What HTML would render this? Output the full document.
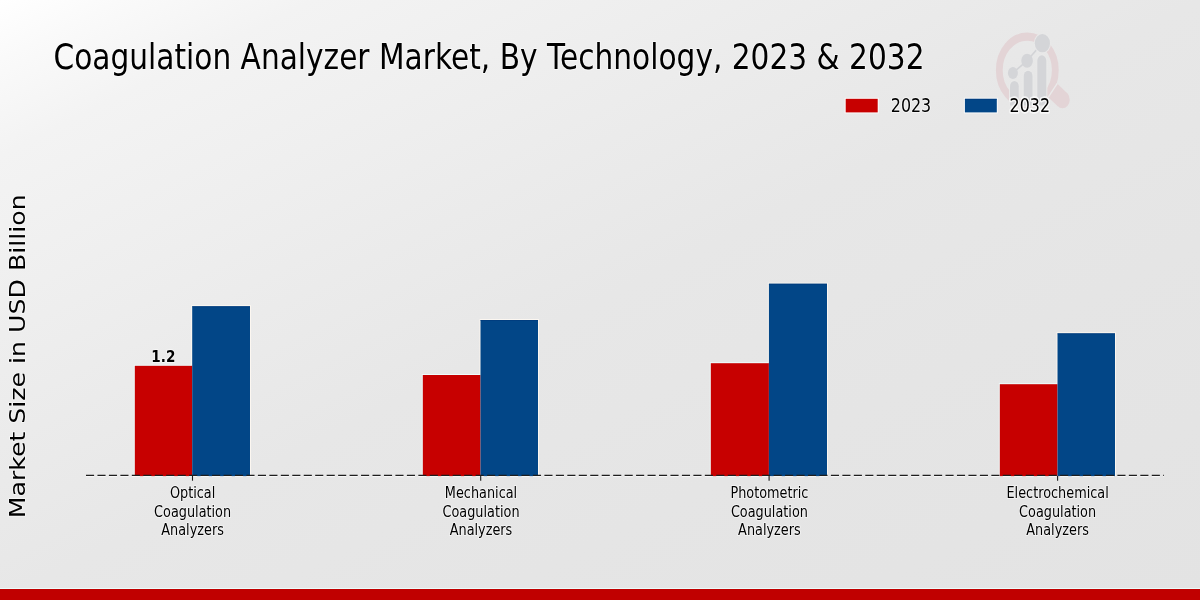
<!DOCTYPE html>
<html>
<head>
<meta charset="utf-8">
<style>
html,body{margin:0;padding:0;width:1200px;height:600px;overflow:hidden;}
body{background:linear-gradient(to bottom right,#ffffff 0%,#fafafa 5%,#f3f3f3 13%,#efefef 25%,#ebebeb 37%,#e7e7e7 50%,#e5e5e5 70%,#e3e3e3 100%);}
svg{position:absolute;left:0;top:0;display:block;will-change:transform;}
text{font-family:"DejaVu Sans","Liberation Sans",sans-serif;fill:#000;stroke:#fff;stroke-opacity:0.55;stroke-width:1.6px;paint-order:stroke;stroke-linejoin:round;}
</style>
</head>
<body>
<svg width="1200" height="600" viewBox="0 0 1200 600">
  <!-- watermark logo -->
  <g transform="scale(1,1.2)">
    <circle cx="1027.3" cy="58.5" r="28" fill="none" stroke="#e3d4d6" stroke-width="6.8"/>
    <line x1="1052.7" y1="75.3" x2="1062.5" y2="83.05" stroke="#e3d4d6" stroke-width="14.4"/>
    <circle cx="1062.5" cy="83.05" r="7.2" fill="#e3d4d6"/>
    <line x1="1048.2" y1="80.95" x2="1057.2" y2="69.65" stroke="#eaeaea" stroke-width="1.3"/>
    <g stroke="#d2d3d6" stroke-width="1.5">
      <line x1="1012.9" y1="60.75" x2="1027.1" y2="50.6"/>
      <line x1="1027.1" y1="50.6" x2="1042.4" y2="36"/>
    </g>
    <g fill="#d4d5d8" stroke="#e9e9e9" stroke-width="2" paint-order="stroke">
      <path d="M1010 88 V71.9 a4.375 4.375 0 0 1 8.75 0 V88 Z"/>
      <path d="M1023.75 88 V63.4 a4.375 4.375 0 0 1 8.75 0 V88 Z"/>
      <path d="M1037.3 88 V50.6 a4.5 4.5 0 0 1 9 0 V88 Z"/>
      <circle cx="1042.4" cy="36" r="7.6"/>
      <circle cx="1012.9" cy="60.75" r="5" stroke="none"/>
      <circle cx="1027.1" cy="50.6" r="5.8" stroke="none"/>
    </g>
  </g>

  <!-- title -->
  <text transform="translate(53.5,68.5) scale(1,1.215)" font-size="29.64">Coagulation Analyzer Market, By Technology, 2023 &amp; 2032</text>

  <!-- legend -->
  <rect x="844.7" y="97.8" width="34.0" height="15.6" fill="#ffffff" opacity="0.85"/>
  <rect x="963.9" y="97.8" width="33.9" height="15.6" fill="#ffffff" opacity="0.85"/>
  <rect x="845.7" y="98.8" width="32.0" height="13.6" fill="#c70000"/>
  <text transform="translate(890.8,112.2) scale(1,1.27)" font-size="15.9">2023</text>
  <rect x="964.9" y="98.8" width="31.9" height="13.6" fill="#024687"/>
  <rect x="964.9" y="98.8" width="31.9" height="1" fill="#00377a" opacity="0.6"/>
  <text transform="translate(1009.6,112.2) scale(1,1.27)" font-size="15.9" style="stroke-width:2.6px;stroke-opacity:0.75">2032</text>

  <!-- y axis label -->
  <text transform="translate(25,518.3) rotate(-90) scale(1.167,1)" font-size="21.6">Market Size in USD Billion</text>

  <!-- bars -->
  <g opacity="0.85">
    <rect fill="#f0ffff" x="133.8" y="364.8" width="59.4" height="111.4"/>
    <rect fill="#fffaf2" x="191.2" y="305.2" width="59.8" height="171.0"/>
    <rect fill="#f0ffff" x="421.8" y="374.0" width="59.7" height="102.2"/>
    <rect fill="#fffaf2" x="479.5" y="319.0" width="59.5" height="157.2"/>
    <rect fill="#f0ffff" x="709.8" y="362.2" width="60.1" height="114.0"/>
    <rect fill="#fffaf2" x="767.9" y="282.7" width="60.1" height="193.5"/>
    <rect fill="#f0ffff" x="998.8" y="383.2" width="59.7" height="93.0"/>
    <rect fill="#fffaf2" x="1056.5" y="332.3" width="59.5" height="143.9"/>
  </g>
  <g>
    <rect x="134.8" y="365.8" width="57.4" height="110.3" fill="#c70000"/>
    <rect x="192.2" y="306.2" width="57.8" height="169.9" fill="#024687"/>
    <rect x="422.8" y="375.0" width="57.7" height="101.1" fill="#c70000"/>
    <rect x="480.5" y="320.0" width="57.5" height="156.1" fill="#024687"/>
    <rect x="710.8" y="363.2" width="58.1" height="112.9" fill="#c70000"/>
    <rect x="768.9" y="283.7" width="58.1" height="192.4" fill="#024687"/>
    <rect x="999.8" y="384.2" width="57.7" height="91.9" fill="#c70000"/>
    <rect x="1057.5" y="333.3" width="57.5" height="142.8" fill="#024687"/>
  </g>
  <g fill="#00377a" opacity="0.6">
    <rect x="192.2" y="306.2" width="57.8" height="1"/>
    <rect x="480.5" y="320.0" width="57.5" height="1"/>
    <rect x="768.9" y="283.7" width="58.1" height="1"/>
    <rect x="1057.5" y="333.3" width="57.5" height="1"/>
  </g>

  <!-- baseline dashed -->
  <line x1="86" y1="476.6" x2="1164" y2="476.6" stroke="#ffffff" stroke-opacity="0.9" stroke-width="0.9" stroke-dasharray="8.1 3.36"/>
  <line x1="86" y1="475.4" x2="1164" y2="475.4" stroke="#1e1e1e" stroke-width="1.2" stroke-dasharray="8.1 3.36"/>

  <!-- ticks -->
  <g stroke="#1a1a1a" stroke-width="1.1">
    <line x1="192.5" y1="476" x2="192.5" y2="480.7"/>
    <line x1="480.7" y1="476" x2="480.7" y2="480.7"/>
    <line x1="769.1" y1="476" x2="769.1" y2="480.7"/>
    <line x1="1057.6" y1="476" x2="1057.6" y2="480.7"/>
  </g>

  <!-- data label -->
  <text transform="translate(163.3,362.1) scale(1,1.11)" font-size="13.6" font-weight="bold" text-anchor="middle">1.2</text>

  <!-- tick labels -->
  <g font-size="12.85" text-anchor="middle">
    <text transform="translate(192.6,498.0) scale(1,1.2)">Optical</text>
    <text transform="translate(192.6,516.6) scale(1,1.2)">Coagulation</text>
    <text transform="translate(192.6,535.2) scale(1,1.2)">Analyzers</text>
    <text transform="translate(481.0,498.0) scale(1,1.2)">Mechanical</text>
    <text transform="translate(481.0,516.6) scale(1,1.2)">Coagulation</text>
    <text transform="translate(481.0,535.2) scale(1,1.2)">Analyzers</text>
    <text transform="translate(769.4,498.0) scale(1,1.2)">Photometric</text>
    <text transform="translate(769.4,516.6) scale(1,1.2)">Coagulation</text>
    <text transform="translate(769.4,535.2) scale(1,1.2)">Analyzers</text>
    <text transform="translate(1057.6,498.0) scale(1,1.2)">Electrochemical</text>
    <text transform="translate(1057.6,516.6) scale(1,1.2)">Coagulation</text>
    <text transform="translate(1057.6,535.2) scale(1,1.2)">Analyzers</text>
  </g>

  <!-- bottom band -->
  <rect x="0" y="588" width="1200" height="1" fill="#ecffff" opacity="0.85"/>
  <rect x="0" y="589" width="1200" height="11" fill="#c00000"/>
</svg>
</body>
</html>
